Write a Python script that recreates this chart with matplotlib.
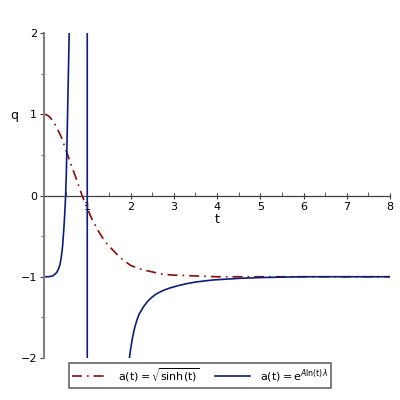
import matplotlib
matplotlib.use("Agg")
import matplotlib.pyplot as plt
from matplotlib.ticker import MultipleLocator

# deceleration parameter q(t)
t_sinh = [0.0, 0.05, 0.1, 0.15, 0.2, 0.25, 0.3, 0.4, 0.5, 0.6, 0.75, 0.88, 1.0,
          1.1, 1.25, 1.4, 1.5, 1.75, 2.0, 2.25, 2.5, 2.75, 3.0, 3.5, 4.0, 5.0,
          6.0, 7.0, 8.0]
q_sinh = [1.0, 0.995, 0.98, 0.955, 0.92, 0.88, 0.83, 0.72, 0.57, 0.42, 0.2, 0.0,
          -0.16, -0.28, -0.43, -0.56, -0.62, -0.76, -0.86, -0.91, -0.94, -0.97,
          -0.98, -0.99, -1.0, -1.0, -1.0, -1.0, -1.0]

t_exp = [0.0, 0.1, 0.2, 0.25, 0.29, 0.33, 0.37, 0.4, 0.43, 0.46, 0.48, 0.5, 0.515,
         0.53, 0.545, 0.56, 0.575, 0.585, 0.6,
         1.0, 1.0,
         1.965, 2.0, 2.05, 2.1, 2.15, 2.2, 2.3, 2.4, 2.5, 2.6, 2.75, 2.9, 3.1,
         3.3, 3.5, 3.9, 4.5, 5.0, 6.0, 7.0, 8.0]
q_exp = [-1.0, -1.0, -0.99, -0.97, -0.95, -0.91, -0.85, -0.76, -0.62, -0.4, -0.22,
         0.0, 0.25, 0.6, 1.0, 1.4, 1.8, 2.05, 2.5,
         10.0, -10.0,
         -2.04, -1.9, -1.74, -1.62, -1.53, -1.46, -1.37, -1.3, -1.25, -1.21,
         -1.17, -1.14, -1.11, -1.085, -1.065, -1.04, -1.02, -1.01, -1.0, -1.0,
         -1.0]

labels = [r"$\mathrm{a(t)} = \sqrt{\mathrm{sinh(t)}}$",
          r"$\mathrm{a(t)} = \mathrm{e}^{A\mathrm{ln(t)}\lambda}$"]

plt.rcParams["font.family"] = "DejaVu Sans"
plt.rcParams["mathtext.fontset"] = "dejavusans"

fig = plt.figure(figsize=(4, 4), dpi=100)
ax = fig.add_axes([0.11, 0.105, 0.865, 0.8125])

ax.plot(t_sinh, q_sinh, color="#8b0a0a", lw=1.2, linestyle=(0, (6, 3, 1, 3)),
        label=labels[0])
ax.plot(t_exp, q_exp, color="#0b1e7a", lw=1.2, label=labels[1])

ax.set_xlim(0, 8)
ax.set_ylim(-2, 2)

for s in ["top", "right"]:
    ax.spines[s].set_visible(False)
ax.spines["left"].set_position(("data", 0))
ax.spines["left"].set_color("#808080")
ax.spines["left"].set_linewidth(1.5)
ax.spines["bottom"].set_position(("data", 0))
ax.spines["bottom"].set_color("#404040")
ax.spines["bottom"].set_linewidth(0.9)

ax.xaxis.set_major_locator(MultipleLocator(1))
ax.xaxis.set_minor_locator(MultipleLocator(0.5))
ax.yaxis.set_major_locator(MultipleLocator(1))
ax.yaxis.set_minor_locator(MultipleLocator(0.5))
ax.set_xticks([1, 2, 3, 4, 5, 6, 7, 8])
ax.tick_params(axis="x", which="major", direction="inout", length=5,
               labelsize=8, pad=2, color="#404040")
ax.tick_params(axis="x", which="minor", direction="in", length=3, color="#404040")
ax.tick_params(axis="y", which="major", direction="out", length=3,
               labelsize=8, pad=2, color="#404040")
ax.tick_params(axis="y", which="minor", direction="out", length=2, color="#404040")

ax.set_xlabel("t", fontsize=9)
ax.xaxis.set_label_coords(0.5, 0.445)
ax.set_ylabel("q", fontsize=9, rotation=0)
ax.yaxis.set_label_coords(-0.085, 0.725)

leg = fig.legend(loc="lower center", bbox_to_anchor=(0.5, 0.015), ncol=2,
                 fontsize=8, frameon=True, fancybox=False, handlelength=3.2,
                 columnspacing=1.4, borderpad=0.3, handletextpad=0.9)
leg.get_frame().set_edgecolor("#404040")
leg.get_frame().set_linewidth(1.2)

fig.savefig("out.png", dpi=100)
